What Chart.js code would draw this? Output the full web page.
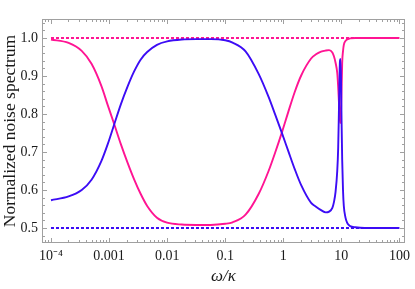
<!DOCTYPE html>
<html><head><meta charset="utf-8">
<script src="https://cdn.jsdelivr.net/npm/chart.js@4/dist/chart.umd.min.js"></script>
<style>html,body{margin:0;padding:0;background:#fff;}canvas{display:block;}</style>
</head><body>
<canvas id="c" width="415" height="289"></canvas>
<script>
// ω/κ sample positions
const omega = [1e-4, 2.01e-4, 3.38e-4, 4.99e-4, 7.36e-4, 9.55e-4, 1.24e-3, 1.60e-3, 2.08e-3, 2.70e-3,
  3.49e-3, 4.53e-3, 6.68e-3, 0.01, 0.0178, 0.0316, 0.0562, 0.1, 0.134, 0.224,
  0.378, 0.558, 0.723, 0.962, 1.216, 1.574, 2.042, 3.013, 3.656, 4.467,
  5.395, 6.138, 6.998, 7.447, 7.943, 8.492, 8.810, 9.057, 9.333, 9.462,
  9.661, 9.886, 10.07, 10.33, 10.67, 11.02, 11.75, 12.56, 13.37, 14.13,
  17.34, 25.12, 100];
const magentaSpectrum = [0.996, 0.987, 0.966, 0.932, 0.874, 0.822, 0.771, 0.720, 0.672, 0.628,
  0.590, 0.558, 0.527, 0.514, 0.509, 0.508, 0.508, 0.511, 0.515, 0.535,
  0.590, 0.650, 0.698, 0.755, 0.805, 0.858, 0.902, 0.946, 0.957, 0.964,
  0.967, 0.968, 0.962, 0.952, 0.935, 0.908, 0.872, 0.835, 0.795, 0.783,
  0.776, 0.810, 0.860, 0.935, 0.965, 0.982, 0.992, 0.996, 0.998, 0.999,
  1.0, 1.0, 1.0];
const blueSpectrum = [0.573, 0.583, 0.600, 0.627, 0.676, 0.722, 0.775, 0.826, 0.872, 0.912,
  0.943, 0.963, 0.982, 0.991, 0.996, 0.997, 0.997, 0.994, 0.988, 0.965,
  0.905, 0.845, 0.799, 0.747, 0.703, 0.655, 0.612, 0.566, 0.556, 0.547,
  0.541, 0.543, 0.553, 0.568, 0.595, 0.650, 0.710, 0.800, 0.910, 0.940,
  0.945, 0.880, 0.785, 0.680, 0.600, 0.558, 0.528, 0.514, 0.508, 0.505,
  0.502, 0.5, 0.5];
const levelOmega = [1e-4, 100];
const magentaLevel = [1.0, 1.0];
const blueLevel = [0.5, 0.5];
const xTickValues = [1e-4, 1e-3, 1e-2, 1e-1, 1, 10, 100];
const xTickLabels = ['10\u207B\u2074', '0.001', '0.01', '0.1', '1', '10', '100'];
const yTickValues = [0.5, 0.6, 0.7, 0.8, 0.9, 1.0];
const yTickLabels = ['0.5', '0.6', '0.7', '0.8', '0.9', '1.0'];

const MAGENTA = '#ff1493';
const BLUE = '#3c0cf5';
const pts = (xs, ys) => xs.map((x, i) => ({x, y: ys[i]}));

const framePlugin = {
  id: 'frame',
  beforeDatasetsDraw(chart) {
    const {ctx, chartArea: a, scales: {x, y}} = chart;
    ctx.save();
    ctx.strokeStyle = '#a0a0a0';
    ctx.lineWidth = 1;
    const L = Math.round(a.left) + 0.5, R = Math.round(a.right) - 0.5;
    const T = Math.round(a.top) + 0.5, B = Math.round(a.bottom) - 0.5;
    ctx.strokeRect(L, T, R - L, B - T);
    ctx.beginPath();
    for (let d = -5; d <= 2; d++) {
      for (let k = 1; k <= 9; k++) {
        const v = k * Math.pow(10, d);
        if (v < x.min || v > x.max) continue;
        const px = Math.round(x.getPixelForValue(v)) + 0.5;
        const len = k === 1 ? 4.5 : 2.5;
        ctx.moveTo(px, B); ctx.lineTo(px, B - len);
        ctx.moveTo(px, T); ctx.lineTo(px, T + len);
      }
    }
    for (let i = 0; i <= 40; i++) {
      const v = Math.round((0.40 + 0.02 * i) * 100) / 100;
      if (v < y.min || v > y.max) continue;
      const py = Math.round(y.getPixelForValue(v)) + 0.5;
      const major = Math.abs(v * 10 - Math.round(v * 10)) < 1e-6;
      const len = major ? 4.5 : 2.5;
      ctx.moveTo(L, py); ctx.lineTo(L + len, py);
      ctx.moveTo(R, py); ctx.lineTo(R - len, py);
    }
    ctx.stroke();
    ctx.restore();
  }
};

const serif = '"Liberation Serif", "Times New Roman", serif';

new Chart(document.getElementById('c'), {
  type: 'scatter',
  data: {
    datasets: [
      {data: pts(omega, blueSpectrum), borderColor: BLUE, borderWidth: 1.9, showLine: true, pointRadius: 0, cubicInterpolationMode: 'monotone'},
      {data: pts(omega, magentaSpectrum), borderColor: MAGENTA, borderWidth: 1.9, showLine: true, pointRadius: 0, cubicInterpolationMode: 'monotone'},
      {data: pts(levelOmega, magentaLevel), borderColor: MAGENTA, borderWidth: 2, borderDash: [3, 2], showLine: true, pointRadius: 0},
      {data: pts(levelOmega, blueLevel), borderColor: BLUE, borderWidth: 2, borderDash: [3, 2], showLine: true, pointRadius: 0}
    ]
  },
  options: {
    responsive: false,
    animation: false,
    devicePixelRatio: 1,
    layout: {padding: {top: 19, right: 4, left: 0, bottom: 0}},
    plugins: {legend: {display: false}, tooltip: {enabled: false}},
    scales: {
      x: {
        type: 'logarithmic',
        min: 7.41e-5, max: 124.7,
        grid: {display: false, drawTicks: false},
        border: {display: false},
        afterBuildTicks: s => { s.ticks = xTickValues.map(v => ({value: v})); },
        afterFit: s => { s.height = 46; },
        ticks: {
          autoSkip: false, maxRotation: 0, padding: 5,
          color: '#1a1a1a', font: {family: serif, size: 14},
          callback: (v, i) => xTickLabels[i]
        },
        title: {display: true, text: '\u03C9/\u03BA', color: '#1a1a1a',
          font: {family: serif, size: 17, style: 'italic'}, padding: {top: 0, bottom: 2}}
      },
      y: {
        type: 'linear',
        min: 0.4605, max: 1.05,
        grid: {display: false, drawTicks: false},
        border: {display: false},
        afterBuildTicks: s => { s.ticks = yTickValues.map(v => ({value: v})); },
        afterFit: s => { s.width = 42; },
        ticks: {
          padding: 4, color: '#1a1a1a', font: {family: serif, size: 14},
          callback: (v, i) => yTickLabels[i]
        },
        title: {display: true, text: 'Normalized noise spectrum', color: '#1a1a1a',
          font: {family: serif, size: 17.5}, padding: {top: 0, bottom: 0}}
      }
    }
  },
  plugins: [framePlugin]
});
</script>
</body></html>
